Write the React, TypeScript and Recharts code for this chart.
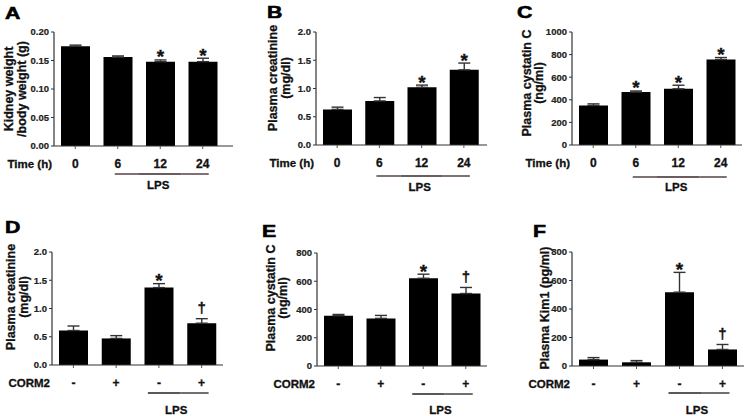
import { BarChart, Bar, XAxis, YAxis, ErrorBar } from "recharts";

const FONT = "'Liberation Sans', Arial, sans-serif";

// x categories
const timeLabels = ["0", "6", "12", "24"];
const cormLabels = ["-", "+", "-", "+"];
const timeLps = [false, true, true, true];
const cormLps = [false, false, true, true];

// A: kidney weight / body weight (g)
const kidneyMean = [0.175, 0.156, 0.148, 0.148];
const kidneyErr = [0.002, 0.002, 0.003, 0.006];
const kidneyMarks = ["", "", "*", "*"];
const kidneyTicks = [0, 0.05, 0.1, 0.15, 0.2];

// B: plasma creatinine over time (mg/dl)
const creatMean = [0.63, 0.78, 1.02, 1.33];
const creatErr = [0.04, 0.06, 0.04, 0.12];
const creatMarks = ["", "", "*", "*"];
const creatTicks = [0, 0.5, 1, 1.5, 2];

// C: plasma cystatin C over time (ng/ml)
const cysMean = [350, 468, 497, 756];
const cysErr = [14, 10, 32, 18];
const cysMarks = ["", "*", "*", "*"];
const cysTicks = [0, 200, 400, 600, 800, 1000];

// D: plasma creatinine with CORM2 (mg/dl)
const creatCormMean = [0.61, 0.47, 1.37, 0.74];
const creatCormErr = [0.08, 0.05, 0.07, 0.08];
const cormMarks = ["", "", "*", "†"];

// E: plasma cystatin C with CORM2 (ng/ml)
const cysCormMean = [356, 337, 621, 513];
const cysCormErr = [9, 21, 29, 43];
const cysCormTicks = [0, 200, 400, 600, 800];

// F: plasma Kim1 with CORM2 (pg/ml)
const kimMean = [45, 26, 518, 116];
const kimErr = [14, 12, 139, 35];
const kimTicks = [0, 200, 400, 600, 800];

type Panel = {
  letter: string;
  letterPos: [number, number];
  title: string[];
  titlePos: [number, number][];
  box: [number, number, number, number];
  plot: [number, number, number, number];
  xPad: number;
  domain: [number, number];
  ticks: number[];
  digits: number;
  labels: string[];
  lps: boolean[];
  xTitle: string;
  mean: number[];
  err: number[];
  marks: string[];
  lineColor: string;
  lineDy: number;
  lineStart: number;
  lineEnd: number;
  lpsDy: number;
  lpsDx: number;
};

const top = { lineColor: "#3d2626", lineStart: -3, lineEnd: 6, lpsDx: -2 };
const bottom = { lineColor: "#222", lineStart: -11, lineEnd: 7, lpsDx: -4 };

const panels: Panel[] = [
  {
    ...top, letter: "A", letterPos: [5, 19],
    title: ["Kidney weight", "/body weight (g)"], titlePos: [[9, 89], [22, 89]],
    box: [0, 0, 250, 200], plot: [54, 32, 233, 146], xPad: 9,
    domain: [0, 0.2], ticks: kidneyTicks, digits: 2,
    labels: timeLabels, lps: timeLps, xTitle: "Time (h)",
    mean: kidneyMean, err: kidneyErr, marks: kidneyMarks, lineDy: 28, lpsDy: 39,
  },
  {
    ...top, letter: "B", letterPos: [267, 18],
    title: ["Plasma creatinine", "(mg/dl)"], titlePos: [[273, 78], [286, 78]],
    box: [250, 0, 245, 200], plot: [316, 32, 487, 145], xPad: 2,
    domain: [0, 2], ticks: creatTicks, digits: 1,
    labels: timeLabels, lps: timeLps, xTitle: "Time (h)",
    mean: creatMean, err: creatErr, marks: creatMarks, lineDy: 31, lpsDy: 42,
  },
  {
    ...top, letter: "C", letterPos: [517, 18],
    title: ["Plasma cystatin C", "(ng/ml)"], titlePos: [[527, 83], [539, 83]],
    box: [500, 0, 244, 200], plot: [572, 32, 742, 145], xPad: 0,
    domain: [0, 1000], ticks: cysTicks, digits: 0,
    labels: timeLabels, lps: timeLps, xTitle: "Time (h)",
    mean: cysMean, err: cysErr, marks: cysMarks, lineDy: 32, lpsDy: 42,
  },
  {
    ...bottom, letter: "D", letterPos: [5, 233],
    title: ["Plasma creatinine", "(mg/dl)"], titlePos: [[11, 297], [24, 297]],
    box: [0, 210, 250, 206], plot: [52, 252, 223, 365], xPad: 0,
    domain: [0, 2], ticks: creatTicks, digits: 1,
    labels: cormLabels, lps: cormLps, xTitle: "CORM2",
    mean: creatCormMean, err: creatCormErr, marks: cormMarks, lineDy: 28, lpsDy: 45,
  },
  {
    ...bottom, letter: "E", letterPos: [262, 237],
    title: ["Plasma cystatin C", "(ng/ml)"], titlePos: [[271, 298], [283, 298]],
    box: [250, 210, 245, 206], plot: [317, 253, 487, 366], xPad: 0,
    domain: [0, 800], ticks: cysCormTicks, digits: 0,
    labels: cormLabels, lps: cormLps, xTitle: "CORM2",
    mean: cysCormMean, err: cysCormErr, marks: cormMarks, lineDy: 28, lpsDy: 44,
  },
  {
    ...bottom, letter: "F", letterPos: [533, 237],
    title: ["Plasma Kim1 (pg/ml)"], titlePos: [[545, 308]],
    box: [500, 210, 244, 206], plot: [572, 252, 744, 366], xPad: 0,
    domain: [0, 800], ticks: kimTicks, digits: 0,
    labels: cormLabels, lps: cormLps, xTitle: "CORM2",
    mean: kimMean, err: kimErr, marks: cormMarks, lineDy: 27, lpsDy: 44,
  },
];

const Y_W = 36;
const X_H = 45;
const INK = { fontFamily: FONT, fontWeight: 700, fill: "#111", stroke: "#111", strokeWidth: 0.3 } as const;

function GroupTick(props: any) {
  const { x, y, index, p } = props;
  const axisY = y - 5;
  const n = p.labels.length;
  const step = (p.plot[2] - p.xPad - p.plot[0]) / n;
  const first = p.lps.indexOf(true);
  const last = p.lps.lastIndexOf(true);
  return (
    <g>
      <text x={x} y={axisY + 21.5} textAnchor="middle" fontSize={12} {...INK}>
        {p.labels[index]}
      </text>
      {index === 0 && (
        <text x={x - step / 2 - 2} y={axisY + 21.5} textAnchor="end" fontSize={11.5} {...INK}>
          {p.xTitle}
        </text>
      )}
      {p.lps[index] && (
        <line
          x1={index === first ? x + p.lineStart : x - step / 2}
          x2={index === last ? x + p.lineEnd : x + step / 2}
          y1={axisY + p.lineDy}
          y2={axisY + p.lineDy}
          stroke={p.lineColor}
          strokeWidth={1.3}
        />
      )}
      {index === last && (
        <text
          x={x - ((last - first) * step) / 2 + p.lpsDx}
          y={axisY + p.lpsDy + 4.2}
          textAnchor="middle"
          fontSize={11.5}
          {...INK}
        >
          LPS
        </text>
      )}
    </g>
  );
}

const makeMark = (p: Panel) => (props: any) => {
  const vb = props.viewBox ?? props;
  const x = props.x ?? vb.x;
  const y = props.y ?? vb.y;
  const width = props.width ?? vb.width;
  const height = props.height ?? vb.height;
  const i = props.index;
  const m = p.marks[i];
  if (!m || !height) return <g />;
  const errTop = y - (p.err[i] * height) / p.mean[i];
  const cx = x + width / 2;
  if (m === "*") {
    return (
      <text x={cx} y={errTop + 3.5} textAnchor="middle" fontSize={19} {...INK}>
        *
      </text>
    );
  }
  return (
    <text x={cx} y={errTop - 5.8} textAnchor="middle" fontSize={15} {...INK}>
      {m}
    </text>
  );
};

function PanelChart({ p }: { p: Panel }) {
  const [bx, by, bw, bh] = p.box;
  const [l, t, r, b] = p.plot;
  const data = p.mean.map((v, i) => ({ key: `c${i}`, mean: v, errRange: [0, p.err[i]] }));
  const margin = {
    top: t - by,
    left: l - bx - Y_W,
    right: bx + bw - r,
    bottom: by + bh - b - X_H,
  };
  return (
    <div style={{ position: "absolute", left: bx, top: by }}>
      <BarChart width={bw} height={bh} data={data} margin={margin}>
        <XAxis
          dataKey="key"
          type="category"
          height={X_H}
          padding={{ left: 0, right: p.xPad }}
          interval={0}
          tickSize={3}
          tickMargin={2}
          axisLine={{ stroke: "#333", strokeWidth: 1.2 }}
          tickLine={{ stroke: "#555", strokeWidth: 1 }}
          tick={(props: any) => <GroupTick {...props} p={p} />}
        />
        <YAxis
          type="number"
          width={Y_W}
          domain={p.domain}
          ticks={p.ticks}
          interval={0}
          tickSize={3}
          tickMargin={2}
          tickFormatter={(v: number) => v.toFixed(p.digits)}
          axisLine={{ stroke: "#333", strokeWidth: 1.2 }}
          tickLine={{ stroke: "#333", strokeWidth: 1 }}
          tick={{ fontSize: 9.5, fontWeight: 700, fill: "#222", fontFamily: FONT, stroke: "#222", strokeWidth: 0.2 }}
        />
        <Bar dataKey="mean" fill="#000" barSize={29} isAnimationActive={false} label={makeMark(p)}>
          <ErrorBar dataKey="errRange" direction="y" width={6} stroke="#333" strokeWidth={1.4} />
        </Bar>
      </BarChart>
    </div>
  );
}

export default function App() {
  return (
    <div
      style={{
        position: "absolute",
        left: 0,
        top: 0,
        width: 744,
        height: 416,
        background: "#fff",
        fontFamily: FONT,
        overflow: "hidden",
      }}
    >
      {panels.map((p) => (
        <PanelChart key={p.letter} p={p} />
      ))}
      <svg width={744} height={416} style={{ position: "absolute", left: 0, top: 0, pointerEvents: "none" }}>
        {panels.map((p) => (
          <g key={p.letter}>
            <g transform={`translate(${p.letterPos[0]},${p.letterPos[1]}) scale(1.25,1)`}>
              <text x={0} y={0} fontSize={17} fontWeight={900} fontFamily={FONT} fill="#000" stroke="#000" strokeWidth={0.6}>
                {p.letter}
              </text>
            </g>
            {p.title.map((line, i) => (
              <text
                key={i}
                transform={`translate(${p.titlePos[i][0]},${p.titlePos[i][1]}) rotate(-90)`}
                textAnchor="middle"
                dominantBaseline="central"
                fontSize={12.5}
                {...INK}
              >
                {line}
              </text>
            ))}
          </g>
        ))}
      </svg>
    </div>
  );
}
